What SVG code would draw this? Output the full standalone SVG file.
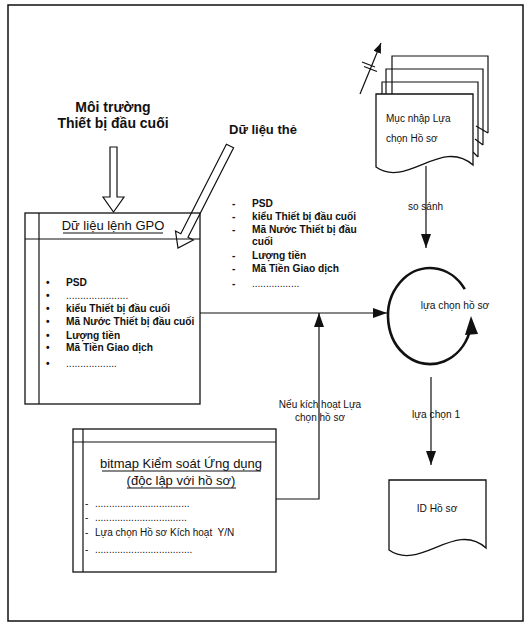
<svg xmlns="http://www.w3.org/2000/svg" width="532" height="625" viewBox="0 0 532 625">
<style>
text{font-family:"Liberation Sans",Arial,sans-serif;fill:#111}
.b{font-weight:bold}
.ln{fill:none;stroke:#111;stroke-width:1.2}
.bx{fill:#fff;stroke:#111;stroke-width:1.3}
.t14{font-size:14px}
.t13{font-size:13px}
.t11{font-size:10.2px}
.t10{font-size:10px}
.mid{text-anchor:middle}
</style>
<defs>
<marker id="ah" markerWidth="10" markerHeight="8" refX="10" refY="4" orient="auto" markerUnits="userSpaceOnUse">
<path d="M0,0 L10,4 L0,8 Z" fill="#111"/>
</marker>
<marker id="ahL" markerWidth="14" markerHeight="10" refX="14" refY="5" orient="auto" markerUnits="userSpaceOnUse">
<path d="M0,0 L14,5 L0,10 Z" fill="#111"/>
</marker>
</defs>
<rect x="0" y="0" width="532" height="625" fill="#fff"/>
<rect x="8" y="5" width="515" height="616" fill="none" stroke="#111" stroke-width="1.5"/>

<g id="env">
<text class="b t14 mid" x="113" y="112">Môi trường</text>
<text class="b t14 mid" x="113" y="128">Thiết bị đầu cuối</text>
<polygon class="ln" points="110,147 117,147 117,197 124,197 113.5,212 103,197 110,197" fill="#fff"/>
</g>

<g id="gpo">
<rect class="bx" x="25" y="213" width="175" height="191"/>
<line class="ln" x1="25" y1="239" x2="200" y2="239"/>
<line class="ln" x1="39" y1="213" x2="39" y2="404"/>
<text class="t13 mid" x="113" y="230">Dữ liệu lệnh GPO</text>
<line class="ln" x1="63" y1="233" x2="163" y2="233"/>
<g class="b t11">
<text x="46" y="286">•</text><text x="66" y="286">PSD</text>
<text x="46" y="299">•</text><text x="66" y="299" style="font-weight:normal">......................</text>
<text x="46" y="312">•</text><text x="66" y="312">kiểu Thiết bị đầu cuối</text>
<text x="46" y="325">•</text><text x="66" y="325">Mã Nước Thiết bị đầu cuối</text>
<text x="46" y="339">•</text><text x="66" y="339">Lượng tiền</text>
<text x="46" y="351">•</text><text x="66" y="351">Mã Tiền Giao dịch</text>
<text x="46" y="367">•</text><text x="66" y="367" style="font-weight:normal">..................</text>
</g>
</g>

<g id="cardData">
<text class="b t13" x="229" y="134">Dữ liệu thẻ</text>
<polygon class="ln" fill="#fff" points="226.4,144.2 233.6,147.8 188,237.3 193.3,240 178,248 175.5,231 180.8,233.7"/>
<text class="b t11" x="232" y="207">-</text><text class="b t11" x="252" y="207">PSD</text>
<text class="b t11" x="232" y="220">-</text><text class="b t11" x="252" y="220">kiểu Thiết bị đầu cuối</text>
<text class="b t11" x="232" y="233">-</text><text class="b t11" x="252" y="233">Mã Nước Thiết bị đầu</text>
<text class="b t11" x="252" y="245">cuối</text>
<text class="b t11" x="232" y="259">-</text><text class="b t11" x="252" y="259">Lượng tiền</text>
<text class="b t11" x="232" y="272">-</text><text class="b t11" x="252" y="272">Mã Tiền Giao dịch</text>
<text class="b t11" x="232" y="287">-</text><text class="t10" x="252" y="287">.................</text>
</g>

<g id="bitmap">
<rect class="bx" x="73" y="429" width="203" height="143"/>
<line class="ln" x1="73" y1="442" x2="276" y2="442"/>
<line class="ln" x1="83" y1="429" x2="83" y2="572"/>
<text class="t13 mid" x="181" y="468">bitmap Kiểm soát Ứng dụng</text>
<line class="ln" x1="102" y1="471" x2="261" y2="471"/>
<text class="t13 mid" x="181" y="485">(độc lập với hồ sơ)</text>
<line class="ln" x1="127" y1="488" x2="236" y2="488"/>
<text class="t10" x="85" y="507">-</text><text class="t10" x="95" y="507">..................................</text>
<text class="t10" x="85" y="521">-</text><text class="t10" x="95" y="521">.................................</text>
<text class="t10" x="85" y="536">-</text><text class="t10" x="95" y="536">Lựa chọn Hồ sơ Kích hoạt&#160; Y/N</text>
<text class="t10" x="85" y="553">-</text><text class="t10" x="95" y="553">...................................</text>
</g>

<g id="entries">
<path class="ln" d="M392,94 V56 H488 V133 M476,126 L488,133"/>
<path class="ln" d="M386,94 V69 H483 V145 M475,139 L483,145"/>
<path class="ln" d="M382,94 V82 H478 V157 M473,152 L478,157"/>
<path class="bx" d="M376,167 V94 H473 V165 C441,137 407,189 376,167 Z"/>
<line class="ln" x1="360" y1="94" x2="381" y2="43" marker-end="url(#ah)"/>
<line class="ln" x1="362" y1="62" x2="375" y2="67"/>
<line class="ln" x1="364" y1="66.5" x2="377" y2="71.5"/>
<text class="t10" x="386" y="122">Mục nhập Lựa</text>
<text class="t10" x="386" y="142">chọn Hồ sơ</text>
</g>

<g id="select">
<path d="M464.8,289.2 A42,48 0 1 0 469.5,332.4" fill="none" stroke="#111" stroke-width="2.6"/>
<polygon points="471,316 465,335 478,334" fill="#111"/>
<text class="t11 mid" x="455" y="309">lựa chọn hồ sơ</text>
</g>

<g id="profileId">
<path class="bx" d="M389,550 V480 H486 V548 C455,520 420,572 389,550 Z"/>
<text class="t11 mid" x="437" y="512">ID Hồ sơ</text>
</g>

<g id="connectors">
<line class="ln" x1="200" y1="313" x2="387" y2="313" marker-end="url(#ahL)"/>
<polyline class="ln" points="276,499 319,499 319,313" marker-end="url(#ahL)"/>
<line class="ln" x1="426" y1="166" x2="426" y2="248" marker-end="url(#ahL)"/>
<line class="ln" x1="431" y1="377" x2="431" y2="465" marker-end="url(#ahL)"/>
<text class="t10" x="408" y="210">so sánh</text>
<text class="t10 mid" x="320" y="408">Nếu kích hoạt Lựa</text>
<text class="t10 mid" x="320" y="421">chọn hồ sơ</text>
<text class="t11" x="412" y="418">lựa chọn 1</text>
</g>
</svg>
